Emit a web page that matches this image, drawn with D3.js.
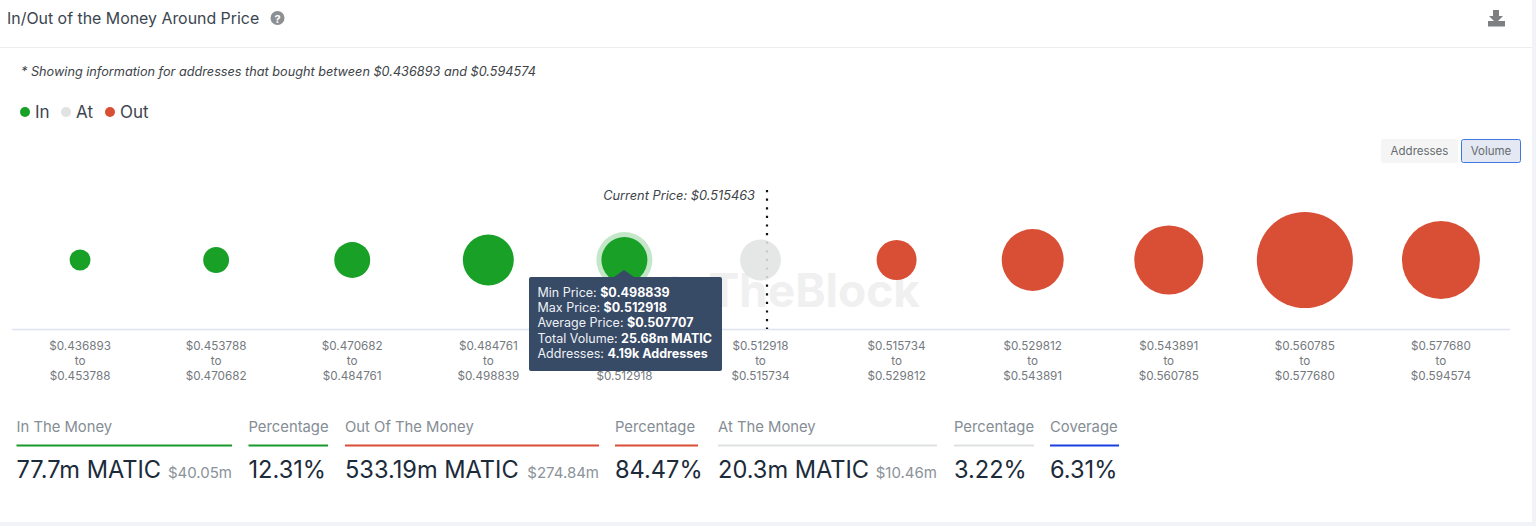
<!DOCTYPE html>
<html>
<head>
<meta charset="utf-8">
<title>In/Out of the Money Around Price</title>
<script src="https://cdn.jsdelivr.net/npm/d3@7"></script>
<style>
  html, body { margin: 0; padding: 0; background: #fff; overflow: hidden; }
  text { font-family: Inter, "Noto Sans", sans-serif; }
</style>
</head>
<body>
<svg id="chart" width="1536" height="526"></svg>
<script>
// values
var lowPrices = ["$0.436893", "$0.453788", "$0.470682", "$0.484761", "$0.498839", "$0.512918", "$0.515734", "$0.529812", "$0.543891", "$0.560785", "$0.577680"];
var highPrices = ["$0.453788", "$0.470682", "$0.484761", "$0.498839", "$0.512918", "$0.515734", "$0.529812", "$0.543891", "$0.560785", "$0.577680", "$0.594574"];
var volumes = [5.3, 8.1, 15.7, 31.5, 25.68, 20.3, 19.4, 46.6, 57.8, 112, 73.8];
var zones = ["In", "In", "In", "In", "In", "At", "Out", "Out", "Out", "Out", "Out"];
var legendNames = ["In", "At", "Out"];
var zoneColors = ["#18a027", "#e1e2e2", "#d94f35"];

var tooltipLabels = ["Min Price: ", "Max Price: ", "Average Price: ", "Total Volume: ", "Addresses: "];
var tooltipValues = ["$0.498839", "$0.512918", "$0.507707", "25.68m MATIC", "4.19k Addresses"];

var statTitles = ["In The Money", "Percentage", "Out Of The Money", "Percentage", "At The Money", "Percentage", "Coverage"];
var statValues = ["77.7m MATIC", "12.31%", "533.19m MATIC", "84.47%", "20.3m MATIC", "3.22%", "6.31%"];
var statUsd = ["$40.05m", "", "$274.84m", "", "$10.46m", "", ""];
var statColors = ["#18992a", "#18992a", "#d94f35", "#d94f35", "#e0e1e2", "#e0e1e2", "#1a3fe0"];
var statLeft = [16.5, 248.5, 345, 615, 718, 954, 1050];
var statRight = [232, 328, 599, 698, 937, 1034, 1119];

var svg = d3.select("#chart");
var color = d3.scaleOrdinal().domain(legendNames).range(zoneColors);
var x = d3.scaleBand().domain(lowPrices).range([12, 1509]);
var r = d3.scaleSqrt().domain([0, 25.68]).range([0, 23]);
var cy = 260;
var axisY = 329;

// page furniture
svg.append("rect").attr("x", 1532).attr("width", 4).attr("height", 526).attr("fill", "#f1f3f9");
svg.append("rect").attr("y", 522).attr("width", 1536).attr("height", 4).attr("fill", "#f1f3f9");
svg.append("line").attr("x1", 0).attr("x2", 1532).attr("y1", 47.5).attr("y2", 47.5).attr("stroke", "#ebedef");

svg.append("text").attr("x", 7).attr("y", 24).attr("font-size", 15.9).attr("fill", "#3b4650")
  .text("In/Out of the Money Around Price");
svg.append("circle").attr("cx", 277.5).attr("cy", 18).attr("r", 7).attr("fill", "#8d9093");
svg.append("text").attr("x", 277.5).attr("y", 22.5).attr("text-anchor", "middle")
  .attr("font-size", 11).attr("font-weight", 700).attr("fill", "#fff").text("?");

// download icon
var icon = svg.append("g").attr("fill", "#7d7f81");
icon.append("path").attr("d", d3.line()([[1493, 10], [1499, 10], [1499, 16], [1503, 16], [1496, 23], [1489, 16], [1493, 16]]));
icon.append("rect").attr("x", 1488).attr("y", 21).attr("width", 17).attr("height", 5.5);

svg.append("text").attr("x", 21).attr("y", 76).attr("font-size", 12.7).attr("font-style", "italic")
  .attr("fill", "#3d4348").text("* Showing information for addresses that bought between $0.436893 and $0.594574");

// legend
var legendX = d3.scaleOrdinal().domain(legendNames).range([25, 66, 110]);
var legend = svg.selectAll(".legend").data(legendNames).enter().append("g")
  .attr("transform", function (d) { return "translate(" + legendX(d) + ",112)"; });
legend.append("circle").attr("r", 5).attr("fill", function (d) { return color(d); });
legend.append("text").attr("x", 10).attr("y", 6).attr("font-size", 17).attr("fill", "#3d4650")
  .text(function (d) { return d; });

// Addresses / Volume switch
svg.append("rect").attr("x", 1381).attr("y", 139).attr("width", 77).attr("height", 24).attr("rx", 2).attr("fill", "#f5f5f5");
svg.append("text").attr("x", 1419.5).attr("y", 155).attr("text-anchor", "middle").attr("font-size", 11.5).attr("fill", "#666b70").text("Addresses");
svg.append("rect").attr("x", 1461.5).attr("y", 139.5).attr("width", 59).attr("height", 23).attr("rx", 2)
  .attr("fill", "#e3e8f3").attr("stroke", "#3f78e0");
svg.append("text").attr("x", 1491).attr("y", 155).attr("text-anchor", "middle").attr("font-size", 11.5).attr("fill", "#666b70").text("Volume");

// watermark
svg.append("text").attr("x", 920).attr("y", 307).attr("text-anchor", "end").attr("font-size", 46)
  .attr("font-weight", 700).attr("fill", "#f0f0f0").text("IntoTheBlock");

// x axis with the from / to / to price labels
svg.append("line").attr("x1", 12).attr("x2", 1510).attr("y1", axisY + 0.5).attr("y2", axisY + 0.5).attr("stroke", "#dfe3f0").attr("stroke-width", 1.5);
var labels = svg.selectAll(".range").data(lowPrices).enter().append("text")
  .attr("text-anchor", "middle").attr("font-size", 11.7).attr("fill", "#74797e");
labels.append("tspan").attr("x", function (d) { return x(d) + x.bandwidth() / 2; }).attr("y", 349.5).text(function (d) { return d; });
labels.append("tspan").attr("x", function (d) { return x(d) + x.bandwidth() / 2; }).attr("y", 365).text("to");
labels.append("tspan").attr("x", function (d) { return x(d) + x.bandwidth() / 2; }).attr("y", 380).text(function (d, i) { return highPrices[i]; });

// current price marker, under the bubbles so the grey one veils it
svg.append("line").attr("x1", 767).attr("x2", 767).attr("y1", 190).attr("y2", 329)
  .attr("stroke", "#111").attr("stroke-width", 2.2).attr("stroke-dasharray", "2.2 6.4");
svg.append("text").attr("x", 755).attr("y", 200).attr("text-anchor", "end").attr("font-size", 12.8)
  .attr("font-style", "italic").attr("fill", "#3d4348").text("Current Price: $0.515463");

// hover halo on the active bubble, then the bubbles
var active = 4;
svg.append("circle").attr("cx", x(lowPrices[active]) + x.bandwidth() / 2).attr("cy", cy)
  .attr("r", r(volumes[active]) + 5).attr("fill", color(zones[active])).attr("opacity", 0.25);
svg.selectAll(".bubble").data(volumes).enter().append("circle")
  .attr("cx", function (d, i) { return x(lowPrices[i]) + x.bandwidth() / 2; })
  .attr("cy", cy)
  .attr("r", function (d) { return r(d); })
  .attr("fill", function (d, i) { return color(zones[i]); })
  .attr("fill-opacity", function (d, i) { return zones[i] === "At" ? 0.88 : 1; });

// tooltip
var tip = svg.append("g");
tip.append("path").attr("d", d3.line()([[614, 277], [624, 270], [634, 277]])).attr("fill", "#374a66");
tip.append("rect").attr("x", 529).attr("y", 277).attr("width", 193).attr("height", 94).attr("rx", 2).attr("fill", "#374a66");
var tipText = tip.selectAll(".tip").data(tooltipLabels).enter().append("text")
  .attr("x", 537.5).attr("y", function (d, i) { return 297 + i * 15.2; })
  .attr("font-size", 12.5).attr("fill", "#eef1f5");
tipText.append("tspan").text(function (d) { return d; });
tipText.append("tspan").attr("font-weight", 700).attr("fill", "#fff").text(function (d, i) { return tooltipValues[i]; });

// stat row below the chart
var stats = svg.selectAll(".stat").data(statTitles).enter().append("g");
stats.append("text").attr("x", function (d, i) { return statLeft[i]; }).attr("y", 432)
  .attr("font-size", 14.8).attr("fill", "#858d95").text(function (d) { return d; });
stats.append("line")
  .attr("x1", function (d, i) { return statLeft[i]; })
  .attr("x2", function (d, i) { return statRight[i]; })
  .attr("y1", 445.5).attr("y2", 445.5).attr("stroke-width", 2)
  .attr("stroke", function (d, i) { return statColors[i]; });
stats.append("text").attr("x", function (d, i) { return statLeft[i]; }).attr("y", 478)
  .attr("font-size", 23.6).attr("fill", "#1c2b3a").text(function (d, i) { return statValues[i]; });
stats.append("text").attr("x", function (d, i) { return statRight[i]; }).attr("y", 478).attr("text-anchor", "end")
  .attr("font-size", 15).attr("fill", "#8b9299").text(function (d, i) { return statUsd[i]; });
</script>
</body>
</html>
